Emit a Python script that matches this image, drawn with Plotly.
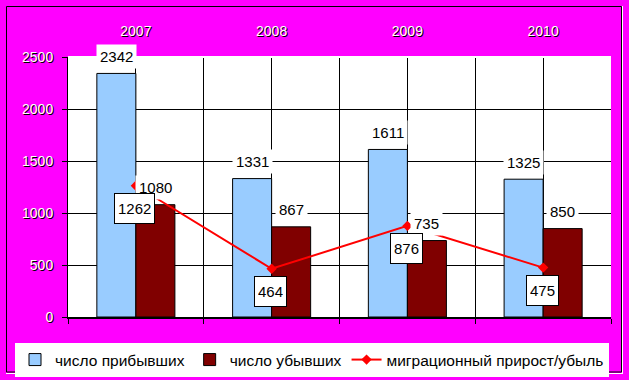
import plotly.graph_objects as go

years = ["2007", "2008", "2009", "2010"]
arrived = [2342, 1331, 1611, 1325]
departed = [1080, 867, 735, 850]
migration = [1262, 464, 876, 475]
series_names = ["число прибывших", "число убывших", "миграционный прирост/убыль"]

W, H = 629, 380
ML, MR, MT, MB = 68, 18, 57, 63
PW, PH = W - ML - MR, H - MT - MB

def px_x(p):
    return (p - ML) / PW

def px_y(p):
    return (H - MB - p) / PH

FONT = "Liberation Sans, Arial, sans-serif"
LABEL_SIZE = 15

fig = go.Figure()
fig.add_trace(go.Bar(x=years, y=arrived, name=series_names[0],
                     marker=dict(color="#99CCFF", line=dict(color="black", width=1))))
fig.add_trace(go.Bar(x=years, y=departed, name=series_names[1],
                     marker=dict(color="#800000", line=dict(color="black", width=1))))
fig.add_trace(go.Scatter(x=years, y=migration, name=series_names[2], mode="lines+markers",
                         line=dict(color="#FF0000", width=2),
                         marker=dict(symbol="diamond", size=8, color="#FF0000")))
# helper trace for the bottom (boundary) category axis
fig.add_trace(go.Scatter(x=years, y=[None] * len(years), xaxis="x2", showlegend=False,
                         hoverinfo="skip", mode="markers"))

ann = []
# category index positions (annotations on category axes take the index)
for i, y in enumerate(years):
    ann.append(dict(x=i, y=arrived[i], xref="x", yref="y", text=str(arrived[i]), showarrow=False,
                    xshift=-19.5, yshift=17, bgcolor="white", borderpad=3,
                    font=dict(size=LABEL_SIZE, color="black", family=FONT)))
    ann.append(dict(x=i, y=departed[i], xref="x", yref="y", text=str(departed[i]), showarrow=False,
                    xshift=19.5, yshift=17, bgcolor="white", borderpad=3,
                    font=dict(size=LABEL_SIZE, color="black", family=FONT)))
for i, y in enumerate(years):
    ann.append(dict(x=i, y=migration[i], xref="x", yref="y", text=str(migration[i]), showarrow=False,
                    xshift=-1, yshift=-23, bgcolor="white", bordercolor="black", borderwidth=1,
                    borderpad=3, height=23,
                    font=dict(size=LABEL_SIZE, color="black", family=FONT)))

shapes = [
    dict(type="line", xref="paper", yref="paper", x0=0, x1=1, y0=1, y1=1,
         line=dict(color="white", width=2), layer="above"),
    dict(type="rect", xref="paper", yref="paper", x0=px_x(6.5), x1=px_x(621.5),
         y0=px_y(6.5), y1=px_y(372), line=dict(color="black", width=1)),
    dict(type="line", xref="paper", yref="paper", x0=px_x(6), x1=px_x(623),
         y0=px_y(373.5), y1=px_y(373.5), line=dict(color="white", width=1)),
    dict(type="line", xref="paper", yref="paper", x0=px_x(622.5), x1=px_x(622.5),
         y0=px_y(6), y1=px_y(373.5), line=dict(color="white", width=1)),
]

tickfont = dict(size=14, color="white", family=FONT, shadow="1px 1px 0px #000000")

fig.update_layout(
    width=W, height=H, autosize=False,
    margin=dict(l=ML, r=MR, t=MT, b=MB, pad=0, autoexpand=False),
    paper_bgcolor="#FF00FF", plot_bgcolor="white",
    barmode="group", bargap=0.425, bargroupgap=0,
    font=dict(family=FONT, color="black"),
    xaxis=dict(type="category", categoryorder="array", categoryarray=years, range=[-0.5, 3.5],
               side="top", showgrid=True, gridcolor="black", gridwidth=1, ticks="",
               tickfont=tickfont, ticklabelstandoff=17, showline=False, zeroline=False,
               automargin=False),
    xaxis2=dict(type="category", categoryorder="array", categoryarray=years, range=[-0.5, 3.5],
                overlaying="x", side="bottom", anchor="y", tickson="boundaries",
                showgrid=True, gridcolor="black", gridwidth=1, ticks="outside", ticklen=5,
                tickcolor="black", tickwidth=1, showticklabels=False,
                showline=True, linecolor="black", linewidth=2, automargin=False),
    yaxis=dict(range=[0, 2500], dtick=500, tick0=0, showgrid=True, gridcolor="black", gridwidth=1,
               ticks="outside", ticklen=5, tickcolor="black", tickfont=tickfont,
               ticklabelstandoff=6, showline=True, linecolor="black", linewidth=1,
               zeroline=False, automargin=False),
    legend=dict(orientation="h", x=px_x(15), xanchor="left", y=px_y(343), yanchor="top",
                bgcolor="white", borderwidth=0, font=dict(size=15.5, color="black", family=FONT),
                traceorder="normal", itemwidth=30),
    annotations=ann,
    shapes=shapes,
    showlegend=True,
)

fig.write_html(
    "out.html",
    config={"displayModeBar": False},
    post_script="document.body.style.margin='0';document.body.style.overflow='hidden';",
)
